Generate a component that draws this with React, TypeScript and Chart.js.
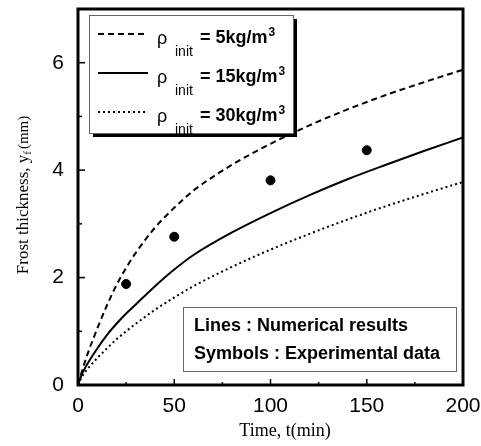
import React, { useEffect, useRef } from 'react';
import { Chart, registerables } from 'chart.js';

Chart.register(...registerables);

// ---- data ----
const timeGrid = [0, 2, 5, 10, 15, 20, 25, 30, 40, 50, 60, 80, 100, 120, 140, 160, 180, 200];
const rho5Thickness = [0, 0.25, 0.58, 1.05, 1.48, 1.86, 2.18, 2.46, 2.93, 3.3, 3.62, 4.1, 4.49, 4.83, 5.13, 5.4, 5.64, 5.87];
const rho15Thickness = [0, 0.2, 0.4, 0.68, 0.93, 1.14, 1.33, 1.5, 1.84, 2.15, 2.42, 2.84, 3.2, 3.53, 3.83, 4.1, 4.36, 4.61];
const rho30Thickness = [0, 0.15, 0.3, 0.5, 0.68, 0.85, 1.0, 1.14, 1.4, 1.63, 1.84, 2.2, 2.52, 2.81, 3.08, 3.33, 3.56, 3.78];
const expTime = [25, 50, 100, 150];
const expThickness = [1.88, 2.76, 3.81, 4.37];
const densityLabels = ['5', '15', '30'];
const xTickValues = [0, 50, 100, 150, 200];
const yTickValues = [0, 2, 4, 6];
const noteLines = ['Lines : Numerical results', 'Symbols : Experimental data'];
const xTitle = 'Time, t(min)';
const yTitleMain = 'Frost thickness, y';
const yTitleSub = 'f';
const yTitleEnd = '(mm)';

const toXY = (xs: number[], ys: number[]) => xs.map((x, i) => ({ x, y: ys[i] }));

const SANS = "'Liberation Sans', Arial, sans-serif";
const SERIF = "'Liberation Serif', 'Times New Roman', serif";

const lineStyles = [
  { dash: [6, 4] },
  { dash: [] as number[] },
  { dash: [2, 3] },
];

const framePlugin = {
  id: 'frameAndAnnotations',
  afterDatasetsDraw(chart: any) {
    const { ctx, chartArea: a, scales } = chart;
    const xs = scales.x;
    const ys = scales.y;
    ctx.save();

    // ---- frame ----
    ctx.strokeStyle = '#000';
    ctx.lineWidth = 3;
    ctx.strokeRect(a.left, a.top, a.right - a.left, a.bottom - a.top);

    // ---- inward ticks ----
    ctx.lineWidth = 1.5;
    const xt = xs.ticks.map((t: any) => t.value);
    for (let i = 0; i < xt.length; i++) {
      const px = xs.getPixelForValue(xt[i]);
      ctx.beginPath();
      ctx.moveTo(px, a.bottom);
      ctx.lineTo(px, a.bottom - 6);
      ctx.stroke();
      if (i < xt.length - 1) {
        const pm = xs.getPixelForValue((xt[i] + xt[i + 1]) / 2);
        ctx.beginPath();
        ctx.moveTo(pm, a.bottom);
        ctx.lineTo(pm, a.bottom - 3);
        ctx.stroke();
      }
    }
    const yt = ys.ticks.map((t: any) => t.value);
    for (let i = 0; i < yt.length; i++) {
      const py = ys.getPixelForValue(yt[i]);
      ctx.beginPath();
      ctx.moveTo(a.left, py);
      ctx.lineTo(a.left + 7, py);
      ctx.stroke();
      const pm = ys.getPixelForValue(yt[i] + 1);
      ctx.beginPath();
      ctx.moveTo(a.left, pm);
      ctx.lineTo(a.left + 4, pm);
      ctx.stroke();
    }

    // ---- legend box (top-left) ----
    const bx = a.left + 11;
    const by = a.top + 6;
    const bw = 204;
    const bh = 118;
    ctx.fillStyle = '#000';
    ctx.fillRect(bx + 4, by + bh, bw, 4);
    ctx.fillRect(bx + bw, by + 4, 4, bh);
    ctx.fillStyle = '#fff';
    ctx.fillRect(bx, by, bw, bh);
    ctx.strokeStyle = '#666';
    ctx.lineWidth = 1;
    ctx.strokeRect(bx + 0.5, by + 0.5, bw, bh);

    const rowY = [by + 21, by + 60, by + 99];
    for (let i = 0; i < densityLabels.length; i++) {
      const y = rowY[i];
      ctx.strokeStyle = '#000';
      ctx.lineWidth = 2;
      ctx.setLineDash(lineStyles[i].dash);
      ctx.beginPath();
      ctx.moveTo(bx + 9, y - 2);
      ctx.lineTo(bx + 59, y - 2);
      ctx.stroke();
      ctx.setLineDash([]);
      ctx.fillStyle = '#000';
      ctx.textBaseline = 'alphabetic';
      ctx.textAlign = 'left';
      ctx.font = `18px ${SANS}`;
      ctx.fillText('ρ', bx + 68, y + 8);
      ctx.font = `14px ${SANS}`;
      ctx.fillText('init', bx + 86, y + 20);
      ctx.font = `bold 18px ${SANS}`;
      const main = `= ${densityLabels[i]}kg/m`;
      ctx.fillText(main, bx + 111, y + 7);
      const w = ctx.measureText(main).width;
      ctx.font = `bold 12px ${SANS}`;
      ctx.fillText('3', bx + 111 + w + 1, y);
    }

    // ---- note box (bottom-right) ----
    const nx = a.left + 105;
    const ny = a.bottom - 78;
    const nw = 273;
    const nh = 64;
    ctx.fillStyle = '#fff';
    ctx.fillRect(nx, ny, nw, nh);
    ctx.strokeStyle = '#666';
    ctx.lineWidth = 1;
    ctx.strokeRect(nx + 0.5, ny + 0.5, nw, nh);
    ctx.fillStyle = '#000';
    ctx.font = `bold 18px ${SANS}`;
    ctx.textBaseline = 'middle';
    ctx.fillText(noteLines[0], nx + 11, ny + 19);
    ctx.fillText(noteLines[1], nx + 11, ny + 47);

    // ---- axis titles ----
    ctx.fillStyle = '#000';
    ctx.textBaseline = 'middle';
    ctx.textAlign = 'center';
    ctx.font = `18px ${SERIF}`;
    ctx.fillText(xTitle, 285, 431);

    ctx.translate(22, 195);
    ctx.rotate(-Math.PI / 2);
    ctx.textAlign = 'left';
    ctx.textBaseline = 'alphabetic';
    ctx.font = `17px ${SERIF}`;
    const w1 = ctx.measureText(yTitleMain).width;
    ctx.font = `11px ${SERIF}`;
    const w2 = ctx.measureText(yTitleSub).width;
    ctx.font = `15px ${SERIF}`;
    const w3 = ctx.measureText(yTitleEnd).width;
    let x0 = -(w1 + w2 + w3 + 2) / 2;
    ctx.font = `17px ${SERIF}`;
    ctx.fillText(yTitleMain, x0, 6);
    x0 += w1;
    ctx.font = `11px ${SERIF}`;
    ctx.fillText(yTitleSub, x0, 9);
    x0 += w2 + 2;
    ctx.font = `15px ${SERIF}`;
    ctx.fillText(yTitleEnd, x0, 6);

    ctx.restore();
  },
};

export default function App() {
  const ref = useRef<HTMLCanvasElement>(null);

  useEffect(() => {
    document.body.style.margin = '0';
    const canvas = ref.current;
    if (!canvas) return;
    const common = {
      showLine: true,
      borderColor: '#000',
      borderWidth: 2,
      pointRadius: 0,
      fill: false,
      cubicInterpolationMode: 'monotone' as const,
    };
    const chart = new Chart(canvas, {
      type: 'scatter',
      data: {
        datasets: [
          { ...common, label: 'ρinit = 5kg/m3', data: toXY(timeGrid, rho5Thickness), borderDash: lineStyles[0].dash },
          { ...common, label: 'ρinit = 15kg/m3', data: toXY(timeGrid, rho15Thickness), borderDash: lineStyles[1].dash },
          { ...common, label: 'ρinit = 30kg/m3', data: toXY(timeGrid, rho30Thickness), borderDash: lineStyles[2].dash },
          {
            label: 'Experimental data',
            data: toXY(expTime, expThickness),
            showLine: false,
            pointRadius: 4.5,
            pointBackgroundColor: '#000',
            pointBorderColor: '#000',
            borderColor: '#000',
          },
        ],
      } as any,
      options: {
        animation: false,
        responsive: false,
        maintainAspectRatio: false,
        layout: { padding: { left: 0, right: 18, top: 9, bottom: 0 } },
        plugins: { legend: { display: false }, tooltip: { enabled: false } },
        scales: {
          x: {
            type: 'linear',
            min: 0,
            max: 200,
            afterBuildTicks: (s: any) => {
              s.ticks = xTickValues.map((v) => ({ value: v }));
            },
            afterFit: (s: any) => {
              s.height = 61;
              s.paddingLeft = 0;
              s.paddingRight = 0;
            },
            grid: { display: false, drawTicks: false },
            border: { display: false },
            ticks: {
              padding: 9,
              color: '#000',
              font: { family: SANS, size: 21 },
              maxRotation: 0,
            },
          },
          y: {
            type: 'linear',
            min: 0,
            max: 7,
            afterBuildTicks: (s: any) => {
              s.ticks = yTickValues.map((v) => ({ value: v }));
            },
            afterFit: (s: any) => {
              s.width = 78;
              s.paddingTop = 0;
              s.paddingBottom = 0;
            },
            grid: { display: false, drawTicks: false },
            border: { display: false },
            ticks: {
              padding: 14,
              color: '#000',
              font: { family: SANS, size: 21 },
            },
          },
        },
      } as any,
      plugins: [framePlugin],
    });
    return () => chart.destroy();
  }, []);

  return <canvas ref={ref} width={481} height={446} style={{ display: 'block' }} />;
}
